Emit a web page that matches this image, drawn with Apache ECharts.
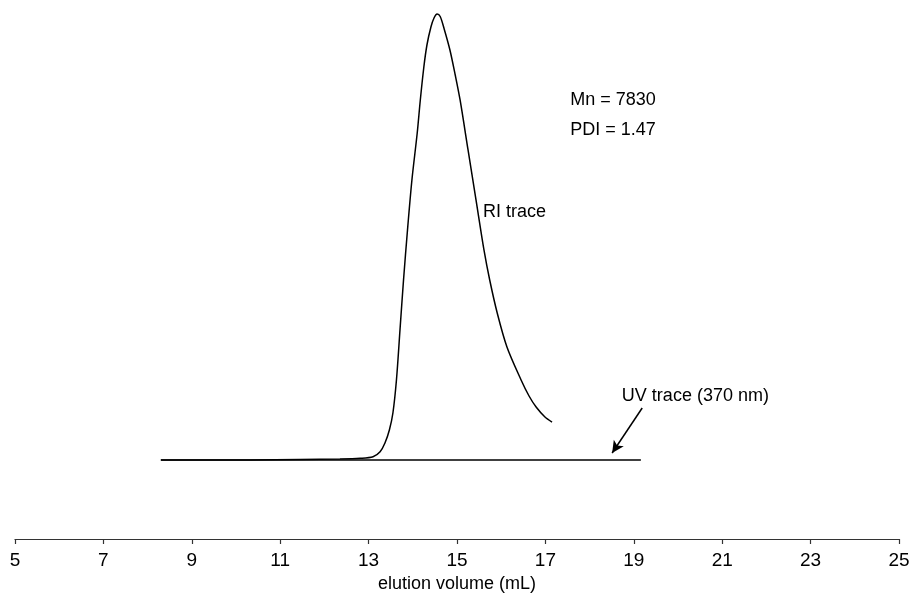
<!DOCTYPE html>
<html>
<head>
<meta charset="utf-8">
<script src="https://cdn.jsdelivr.net/npm/echarts@6/dist/echarts.min.js"></script>
<style>
html,body{margin:0;padding:0;background:#fff;}
#c{width:916px;height:598px;}
</style>
</head>
<body>
<div id="c"></div>
<script>
// elution volume (mL), detector response (arbitrary units, peak = 100)
var riVolume = [8.30,10.32,11.45,12.35,12.81,13.10,13.26,13.37,13.47,13.55,13.63,13.71,13.79,13.88,13.98,14.10,14.17,14.25,14.32,14.41,14.48,14.55,14.62,14.71,14.84,14.96,15.07,15.25,15.43,15.61,15.74,15.91,16.13,16.45,16.63,16.79,16.99,17.15];
var riSignal = [0,0,0.11,0.22,0.38,0.74,1.86,3.81,6.73,10.54,17.94,29.15,40.36,51.57,62.78,73.32,80.72,88.12,93.05,97.09,99.10,100,99.44,96.64,91.93,86.32,80.72,69.51,58.30,47.09,40.36,32.96,25.34,17.94,14.35,11.88,9.64,8.52];
var uvVolume = [8.30,19.16];
var uvSignal = [0,0];
var xTicks = [5,7,9,11,13,15,17,19,21,23,25];
var annotations = [
  {text:'Mn = 7830', x:17.56, y:80.72},
  {text:'PDI = 1.47', x:17.56, y:73.99},
  {text:'RI trace', x:15.59, y:55.61},
  {text:'UV trace (370 nm)', x:18.73, y:14.35}
];
var arrowFrom = [19.19, 11.66];
var arrowTo = [18.51, 1.57];

var FONT = '"Liberation Sans", Arial, sans-serif';
var chart = echarts.init(document.getElementById('c'), null, {renderer:'canvas'});
function zip(a,b){return a.map(function(v,i){return [v,b[i]];});}

var option = {
  animation:false,
  backgroundColor:'#fff',
  grid:{left:15,right:17,top:0,bottom:59,containLabel:false,outerBoundsMode:'none'},
  xAxis:{
    type:'value',min:xTicks[0],max:xTicks[xTicks.length-1],interval:2,
    name:'elution volume (mL)',nameLocation:'middle',nameGap:36,
    nameTextStyle:{fontFamily:FONT,fontSize:18,color:'#000'},
    axisLine:{show:true,onZero:false,lineStyle:{color:'#333',width:1.2}},
    axisTick:{show:true,inside:false,length:5,lineStyle:{color:'#333',width:1.2}},
    axisLabel:{fontFamily:FONT,fontSize:19,color:'#000',margin:12,
      formatter:function(v){return xTicks.indexOf(v)>=0?String(v):'';}},
    splitLine:{show:false}
  },
  yAxis:{type:'value',min:-17.71,max:103.14,show:false,splitLine:{show:false}},
  series:[
    {type:'line',name:'UV',data:zip(uvVolume,uvSignal),showSymbol:false,
     lineStyle:{color:'#000',width:1.5},silent:true,
     markLine:{silent:true,symbol:['none','arrow'],symbolSize:[9,12],
       label:{show:false},lineStyle:{color:'#000',width:1.5,type:'solid'},
       data:[[{coord:arrowFrom},{coord:arrowTo}]]}},
    {type:'line',name:'RI',data:zip(riVolume,riSignal),showSymbol:false,
     smooth:0.3,
     lineStyle:{color:'#000',width:1.5},silent:true}
  ]
};
chart.setOption(option);

var g = annotations.map(function(a){
  var p = chart.convertToPixel({gridIndex:0},[a.x,a.y]);
  return {type:'text',x:p[0],y:p[1],style:{text:a.text,fill:'#000',
    font:'18px '+FONT,textAlign:'left',textVerticalAlign:'middle'}};
});
chart.setOption({graphic:g});
</script>
</body>
</html>
